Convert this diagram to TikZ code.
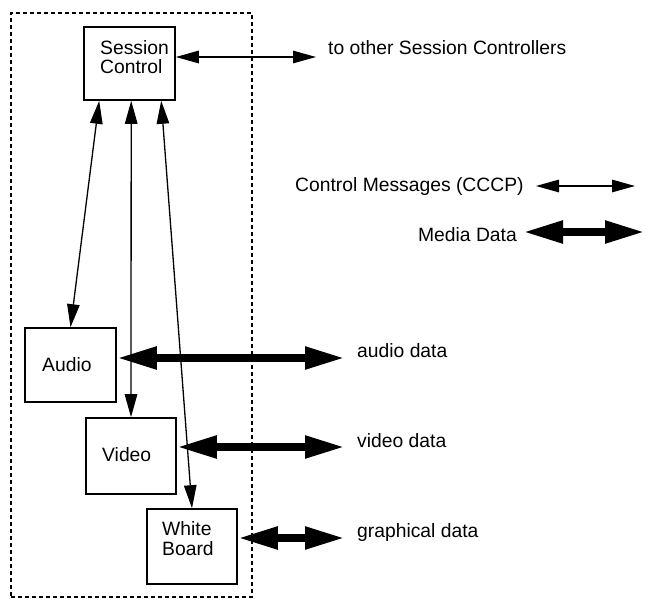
\documentclass[tikz,border=0pt]{standalone}
\usepackage{fontspec}
\setmainfont{Liberation Sans}
\usetikzlibrary{arrows.meta}
\begin{document}
\begin{tikzpicture}[x=1pt,y=-1pt,
  font=\fontsize{19.3}{19.3}\selectfont,
  box/.style={draw,line width=1.6pt,rectangle,inner sep=0pt},
  frame/.style={draw,line width=1.6pt,dash pattern=on 4pt off 3pt,rectangle,inner sep=0pt},
  lbl/.style={anchor=base west,inner sep=0pt},
  ctrl/.style={line width=1.3pt,{Triangle[length=23pt,width=12.5pt]}-{Triangle[length=23pt,width=12.5pt]}},
  media/.style={line width=8pt,{Triangle[length=40pt,width=21pt]}-{Triangle[length=40pt,width=21pt]}}]
\useasboundingbox (0,0) rectangle (646,599);
\node[frame,minimum width=241pt,minimum height=584pt] (frame) at (131.5,305) {};
\node[box,minimum width=91pt,minimum height=73pt] (sc) at (129.5,63.5) {};
\node[box,minimum width=91pt,minimum height=74pt] (audio) at (70.5,365) {};
\node[box,minimum width=90pt,minimum height=76pt] (video) at (131,456) {};
\node[box,minimum width=90pt,minimum height=75pt] (wb) at (192,546.5) {};
% box texts
\node[lbl] (sct1) at (100,55) {Session};
\node[lbl] (sct2) at (100,74) {Control};
\node[lbl] (audt) at (42,371) {Audio};
\node[lbl] (vidt) at (102,461) {Video};
\node[lbl] (wbt1) at (162,535) {White};
\node[lbl] (wbt2) at (162,555) {Board};
% outside labels
\node[lbl] (other) at (328,55) {to other Session Controllers};
\node[lbl] (cm) at (295,192) {Control Messages (CCCP)};
\node[anchor=base east,inner sep=0pt] (md) at (517,242) {Media Data};
\node[lbl] (ad) at (357,357) {audio data};
\node[lbl] (vd) at (357,447) {video data};
\node[lbl] (gd) at (357,537) {graphical data};
% free ends
\coordinate (scend) at (316,57);
\coordinate (audend) at (345,358);
\coordinate (vidend) at (345,447);
\coordinate (wbend) at (345,538);
\coordinate (cm1) at (536,186);
\coordinate (cm2) at (635,186);
\coordinate (md1) at (523,232);
\coordinate (md2) at (645,232);
% control connectors
\draw[ctrl] (sc.east |- scend) -- (scend);
\draw[ctrl] ([xshift=16pt]sc.south west) -- (audio.north);
\draw[ctrl] ([xshift=48pt]sc.south west) -- (video.north);
\draw[ctrl] ([xshift=78pt]sc.south west) -- (wb.north);
\draw[ctrl] (cm1) -- (cm2);
% media connectors
\draw[media] (audio.east |- audend) -- (audend);
\draw[media] (video.east |- vidend) -- (vidend);
\draw[media] (wb.east |- wbend) -- (wbend);
\draw[media] (md1) -- (md2);
\end{tikzpicture}
\end{document}
